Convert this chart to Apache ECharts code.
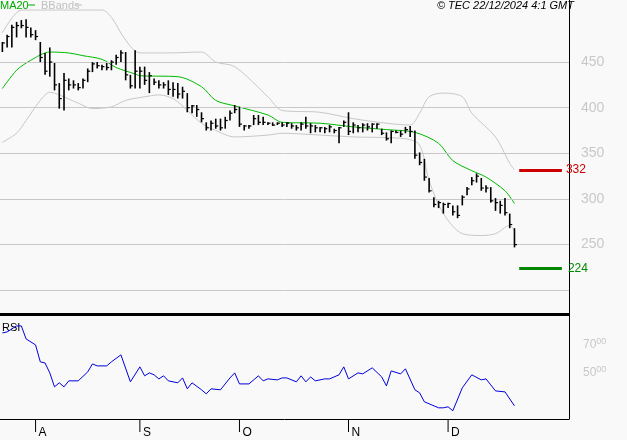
<!DOCTYPE html>
<html><head><meta charset="utf-8">
<script src="https://cdn.jsdelivr.net/npm/echarts@6/dist/echarts.min.js"></script>
<style>html,body{margin:0;padding:0;background:#f9f9f9}#c{width:627px;height:440px}</style>
</head><body><div id="c"></div>
<script>
// ---- data ----
const startDate = '2024-07-23', endDate = '2024-12-20';
const highs = [472,480,491,494,496,497,488,485,472,460,466,449,427,438,432,430,427,432,443,450,450,447,449,452,458,463,461,436,463,445,445,439,432,430,428,430,428,427,423,416,403,403,395,384,386,388,388,390,397,403,401,381,381,392,392,390,384,384,384,384,384,383,381,384,390,383,381,379,379,381,377,379,386,395,384,381,383,383,383,383,377,373,375,375,375,379,380,375,351,344,323,302,298,296,296,293,293,304,313,324,328,323,315,313,301,298,301,284,268];
const lows  = [461,466,466,477,487,477,477,474,450,436,434,419,399,397,419,421,419,421,428,439,443,441,441,441,447,450,430,421,421,421,425,416,425,421,421,414,412,410,410,395,394,390,384,375,375,377,375,377,386,394,379,375,377,381,381,381,381,380,381,379,379,377,375,375,377,372,373,373,372,373,372,361,379,370,372,373,373,375,373,377,370,364,361,372,368,372,368,344,337,320,307,291,290,284,290,282,279,293,304,315,318,309,307,296,287,284,282,268,247];
const closes= [471,478,488,490,490,488,480,478,455,440,450,425,410,430,425,425,422,430,440,448,446,445,444,450,455,460,436,424,440,440,430,435,428,425,425,420,420,415,418,400,402,398,388,378,383,380,378,386,394,398,382,380,380,388,384,384,383,381,383,381,383,380,378,382,380,380,378,378,377,379,375,378,384,374,381,378,381,379,382,382,372,366,374,373,371,376,374,348,340,324,309,294,296,294,295,286,282,302,311,320,325,312,312,298,296,293,285,272,250];
// sampled indicator readings: [barIndex, value]
const ma20 = [[0,421],[3,441],[6,452],[10,461],[14,460],[17,457],[21,453],[24,444],[28,437],[29,435],[37,434],[42,423],[45,408],[49,402],[56,392],[59,384],[67,383],[74,379],[81,376],[87,373],[92,361],[95,342],[99,331],[102,324],[106,309],[108,295]];
const bbUpper = [[0,482],[4,507],[6,507],[21,507],[23,499],[26,474],[29,460],[35,460],[42,461],[45,450],[49,445],[56,412],[59,397],[67,395],[74,388],[81,383],[86,381],[88,394],[90,412],[93,416],[97,412],[99,394],[104,368],[107,339],[108,332]];
const bbLower = [[0,362],[3,372],[5,386],[8,408],[10,417],[12,414],[16,405],[19,399],[23,401],[26,408],[30,412],[33,414],[36,410],[39,397],[42,383],[45,375],[49,368],[56,370],[59,372],[67,370],[74,368],[85,366],[88,359],[90,320],[93,284],[97,262],[101,260],[104,262],[107,271],[108,265]];
const rsi = [[0,78.6],[1,79.3],[3,83.6],[4,83.6],[5,74.3],[7,70],[8,57.9],[9,57.1],[10,50],[11,40],[12,42.9],[13,40],[14,44.3],[16,44.3],[18,50.7],[19,56.4],[20,55],[22,55],[23,57.9],[25,62.9],[27,43.6],[29,54.3],[30,47.9],[31,50],[32,48.6],[33,45.7],[34,47.9],[35,44.3],[37,42.9],[38,46.4],[39,38.6],[40,42.9],[42,37.9],[43,35],[44,38.6],[46,37.9],[48,46.4],[49,50],[50,42.1],[52,42.1],[54,47.9],[55,44.3],[56,45.7],[58,45],[59,46.4],[60,46.4],[62,43.6],[63,47.9],[64,43.6],[65,47.1],[66,44.3],[68,45.7],[69,45.7],[71,48.6],[72,54.3],[73,45.7],[75,50],[76,49.3],[78,53.6],[80,47.1],[81,40.7],[82,51.4],[84,49.3],[85,52.9],[87,37.9],[88,35.7],[89,29.3],[92,25],[93,25],[94,25.7],[95,22.9],[97,39.3],[99,48.6],[101,45],[102,45.7],[103,41.4],[104,37.1],[106,36.4],[108,26.4]];
const priceTicks = [250,300,350,400,450];
const gridPrices = [200,250,300,350,400,450];
const rsiTicks = [50,70];
const resistance = 332, support = 224;
const padCount = 11;
const monthLetters = {'08':'A','09':'S','10':'O','11':'N','12':'D'};

// ---- categories (trading days) ----
const cats = [];
for (let d = new Date(startDate+'T00:00:00Z'); d <= new Date(endDate+'T00:00:00Z'); d.setUTCDate(d.getUTCDate()+1)) {
  const w = d.getUTCDay(); if (w===0||w===6) continue;
  cats.push(d.toISOString().slice(0,10));
}
for (let i=1;i<=padCount;i++) cats.push('+'+i);
const monthStart = new Set();
for (let i=1;i<cats.length;i++){ if(cats[i][0]!=='+' && cats[i].slice(5,7)!==cats[i-1].slice(5,7)) monthStart.add(i); }

const ohlc = highs.map((h,i)=>[i,h,lows[i],closes[i]]);
const toLine = arr => { const o = new Array(highs.length).fill(null); arr.forEach(([i,v])=>o[i]=v); return o; };

const font = 'Liberation Sans, Arial, sans-serif';
const chart = echarts.init(document.getElementById('c'));
chart.setOption({
  backgroundColor:'#f9f9f9',
  animation:false,
  grid:[{left:0,top:0,width:569,height:314},{left:0,top:316,width:569,height:103}],
  xAxis:[
    {type:'category',data:cats,gridIndex:0,axisLine:{show:false},axisTick:{show:false},axisLabel:{show:false}},
    {type:'category',data:cats,gridIndex:1,axisLine:{lineStyle:{color:'#000',width:1}},
     axisTick:{show:false},
     axisLabel:{interval:(i)=>monthStart.has(i),formatter:v=>monthLetters[v.slice(5,7)]||'',align:'left',margin:8,padding:[0,0,0,3],color:'#000',fontSize:12,fontFamily:font}}
  ],
  yAxis:[
    {type:'value',gridIndex:0,min:174,max:518,position:'right',splitLine:{show:false},axisLine:{show:true,lineStyle:{color:'#000'}},axisTick:{show:false},
     axisLabel:{customValues:priceTicks,color:'#c8c8c8',fontSize:14,fontFamily:font,margin:12,verticalAlign:'middle',padding:[10,0,0,0]}},
    {type:'value',gridIndex:1,min:17,max:90.7,position:'right',splitLine:{show:false},axisLine:{show:true,lineStyle:{color:'#000'}},axisTick:{show:false},
     axisLabel:{customValues:rsiTicks,margin:14,formatter:v=>v+'{s|00}',color:'#c8c8c8',fontSize:12,fontFamily:font,rich:{s:{fontSize:9,color:'#c8c8c8',verticalAlign:'top',padding:[0,0,6,0]}}}}
  ],
  series:[
    {type:'custom',xAxisIndex:0,yAxisIndex:0,data:ohlc,z:5,
     renderItem:(params,api)=>{
       const x=api.value(0);
       const hi=api.coord([x,api.value(1)]), lo=api.coord([x,api.value(2)]), cl=api.coord([x,api.value(3)]);
       return {type:'group',children:[
         {type:'line',shape:{x1:hi[0],y1:hi[1],x2:lo[0],y2:lo[1]},style:{stroke:'#000',lineWidth:1.6}},
         {type:'line',shape:{x1:cl[0],y1:cl[1],x2:cl[0]+2.5,y2:cl[1]},style:{stroke:'#000',lineWidth:1.2}}
       ]};
     },
     markLine:{silent:true,symbol:'none',animation:false,data:[
       [{coord:[cats[109],resistance],lineStyle:{color:'#cc0000',width:3,type:'solid'},label:{show:true,position:'end',formatter:String(resistance),color:'#cc0000',fontSize:12,fontFamily:font,distance:4}},{coord:[cats[118],resistance]}],
       [{coord:[cats[109],support],lineStyle:{color:'#008800',width:3,type:'solid'},label:{show:true,position:'end',formatter:String(support),color:'#008800',fontSize:12,fontFamily:font,distance:6}},{coord:[cats[118],support]}]
     ]}},
    {type:'line',xAxisIndex:0,yAxisIndex:0,data:gridPrices.map(()=>null),showSymbol:false,
     markLine:{silent:true,symbol:'none',label:{show:false},lineStyle:{color:'#c8c8c8',width:1,type:'solid'},data:gridPrices.map(v=>({yAxis:v}))},z:1},
    {type:'line',xAxisIndex:0,yAxisIndex:0,data:toLine(bbUpper),connectNulls:true,showSymbol:false,smooth:0.3,lineStyle:{color:'#c8c8c8',width:1},z:2},
    {type:'line',xAxisIndex:0,yAxisIndex:0,data:toLine(bbLower),connectNulls:true,showSymbol:false,smooth:0.3,lineStyle:{color:'#c8c8c8',width:1},z:2},
    {type:'line',xAxisIndex:0,yAxisIndex:0,data:toLine(ma20),connectNulls:true,showSymbol:false,smooth:0.3,lineStyle:{color:'#00bb00',width:1},z:3},
    {type:'line',xAxisIndex:1,yAxisIndex:1,data:toLine(rsi),connectNulls:true,showSymbol:false,lineStyle:{color:'#0000dd',width:1}}
  ]
});
// month tick marks placed through the axis scale
const tickGraphics = [...monthStart].map(i=>{
  const p = chart.convertToPixel({xAxisIndex:1,yAxisIndex:1},[i,17]);
  return {type:'line',shape:{x1:p[0],y1:p[1],x2:p[0],y2:p[1]+13},style:{stroke:'#000',lineWidth:1}};
});
chart.setOption({graphic:[
    {type:'text',left:0,top:0,style:{text:'MA20',fill:'#00aa00',font:'11px '+font}},
    {type:'line',shape:{x1:28,y1:5,x2:35,y2:5},style:{stroke:'#00aa00',lineWidth:1}},
    {type:'text',left:41,top:0,style:{text:'BBands',fill:'#c0c0c0',font:'11px '+font}},
    {type:'line',shape:{x1:75,y1:5,x2:82,y2:5},style:{stroke:'#c0c0c0',lineWidth:1}},
    {type:'text',right:53,top:0,style:{text:'© TEC 22/12/2024 4:1 GMT',fill:'#000',font:'italic 11px '+font}},
    {type:'rect',shape:{x:0,y:313,width:570,height:3},style:{fill:'#000'}},
    {type:'text',left:2,top:322,style:{text:'RSI',fill:'#000',font:'11px '+font}}
  ].concat(tickGraphics)});
</script></body></html>
